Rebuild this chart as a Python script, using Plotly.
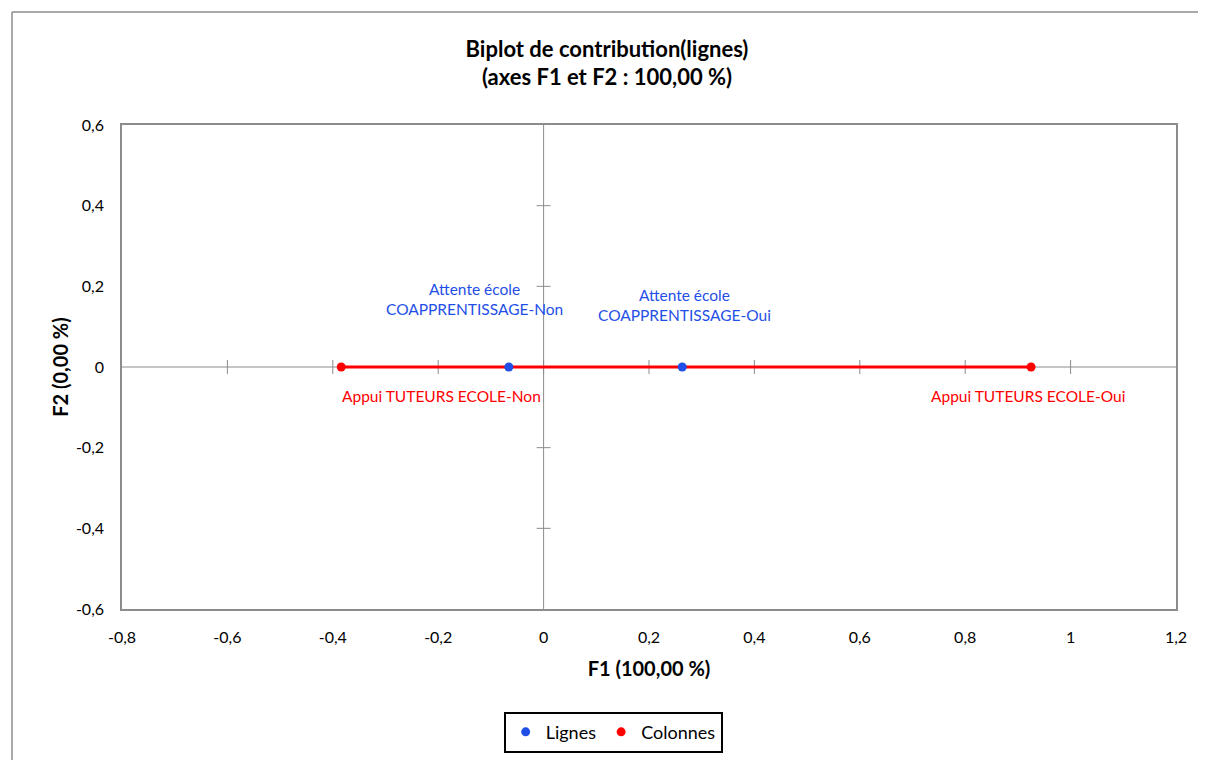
import plotly.graph_objects as go

# ---- data ----
row_labels = ["Attente école<br>COAPPRENTISSAGE-Non", "Attente école<br>COAPPRENTISSAGE-Oui"]
row_f1 = [-0.066, 0.263]
row_f2 = [0.0, 0.0]
col_labels = ["Appui TUTEURS ECOLE-Non", "Appui TUTEURS ECOLE-Oui"]
col_f1 = [-0.384, 0.925]
col_f2 = [0.0, 0.0]
x_ticks = [-0.8, -0.6, -0.4, -0.2, 0, 0.2, 0.4, 0.6, 0.8, 1, 1.2]
x_tick_text = ["-0,8", "-0,6", "-0,4", "-0,2", "0", "0,2", "0,4", "0,6", "0,8", "1", "1,2"]
y_ticks = [-0.6, -0.4, -0.2, 0, 0.2, 0.4, 0.6]
y_tick_text = ["-0,6", "-0,4", "-0,2", "0", "0,2", "0,4", "0,6"]

BLUE = "#1f4fe6"
RED = "#ff0000"
GRAY = "#8c8c8c"
FONT = "Lato"

fig = go.Figure()
# red connecting line (no legend entry)
fig.add_trace(go.Scatter(x=col_f1, y=col_f2, mode="lines", showlegend=False,
                         line=dict(color=RED, width=3), hoverinfo="skip"))
fig.add_trace(go.Scatter(x=col_f1, y=col_f2, mode="markers", name="Colonnes",
                         marker=dict(color=RED, size=9), legendrank=2))
fig.add_trace(go.Scatter(x=row_f1, y=row_f2, mode="markers", name="Lignes",
                         marker=dict(color=BLUE, size=9), legendrank=1))

# point labels
row_shift = [-34, 2]
row_yshift = [68, 62]
for lab, x, y, s, ys in zip(row_labels, row_f1, row_f2, row_shift, row_yshift):
    fig.add_annotation(x=x, y=y, text=lab, showarrow=False, xshift=s, yshift=ys,
                       font=dict(family=FONT, size=15.5, color=BLUE), align="center")
col_shift = [100, -3]
for lab, x, y, s in zip(col_labels, col_f1, col_f2, col_shift):
    fig.add_annotation(x=x, y=y, text=lab, showarrow=False, xshift=s, yshift=-29,
                       font=dict(family=FONT, size=15.5, color=RED), align="center")

shapes = []
# zero lines
shapes.append(dict(type="line", xref="x", yref="paper", x0=0, x1=0, y0=0, y1=1,
                   line=dict(color=GRAY, width=1), layer="below"))
shapes.append(dict(type="line", xref="paper", yref="y", x0=0, x1=1, y0=0, y1=0,
                   line=dict(color=GRAY, width=1), layer="below"))
# tick marks crossing zero lines
for t in x_ticks[1:-1]:
    shapes.append(dict(type="line", xref="x", yref="y", x0=t, x1=t, ysizemode="pixel",
                       yanchor=0, y0=-7, y1=7, line=dict(color=GRAY, width=1), layer="below"))
for t in y_ticks[1:-1]:
    shapes.append(dict(type="line", xref="x", yref="y", y0=t, y1=t, xsizemode="pixel",
                       xanchor=0, x0=-7, x1=7, line=dict(color=GRAY, width=1), layer="below"))
# outer chart border (left and top)
bx = (4 - 114) / 1054
by = 1 + (117 - 4) / 484
shapes.append(dict(type="line", xref="paper", yref="paper", x0=bx, x1=bx,
                   y0=by, y1=-0.4, line=dict(color=GRAY, width=1.5)))
shapes.append(dict(type="line", xref="paper", yref="paper", x0=bx, x1=1.1,
                   y0=by, y1=by, line=dict(color=GRAY, width=1.5)))

fig.update_layout(
    width=1198, height=752,
    margin=dict(l=114, r=30, t=117, b=151, autoexpand=False),
    paper_bgcolor="white", plot_bgcolor="white",
    font=dict(family=FONT, size=16, color="black"),
    title=dict(text="<b>Biplot de contribution(lignes)<br>(axes F1 et F2 : 100,00 %)</b>",
               x=0.5, xanchor="center", y=0.935, yanchor="middle",
               font=dict(family=FONT, size=22, color="black")),
    xaxis=dict(range=[-0.8, 1.2], tickvals=x_ticks, ticktext=x_tick_text,
               showgrid=False, zeroline=False, showline=True, mirror=True,
               linecolor=GRAY, linewidth=1.5, ticks="", ticklabelstandoff=13,
               title=dict(text="<b>F1 (100,00 %)</b>", font=dict(size=20), standoff=17)),
    yaxis=dict(range=[-0.6, 0.6], tickvals=y_ticks, ticktext=y_tick_text,
               showgrid=False, zeroline=False, showline=True, mirror=True,
               linecolor=GRAY, linewidth=1.5, ticks="", ticklabelstandoff=13,
               title=dict(text="<b>F2 (0,00 %)</b>", font=dict(size=20), standoff=2)),
    legend=dict(orientation="h", x=0.466, xanchor="center", y=-0.212, yanchor="top",
                bordercolor="black", borderwidth=2, font=dict(size=18),
                traceorder="normal"),
    shapes=shapes,
)

fig.write_html("out.html")
